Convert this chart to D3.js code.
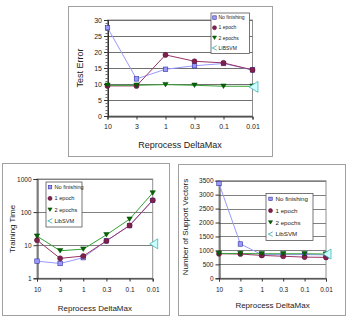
<!DOCTYPE html>
<html><head><meta charset="utf-8">
<script src="https://cdn.jsdelivr.net/npm/d3@7"></script>
<style>body{margin:0;background:#fff}svg{display:block;font-family:"Liberation Sans",Arial,sans-serif}</style>
</head><body><svg id="c" width="347" height="319"></svg>
<script>
// ---- data ----
const categories = ["10", "3", "1", "0.3", "0.1", "0.01"];
const seriesNames = ["No finishing", "1 epoch", "2 epochs", "LibSVM"];
const topSeriesNames = ["No finishing", "1 epoch", "2 epochs", "LIBSVM"];

const testErrorNoFinish = [27.6, 11.6, 14.6, 15.7, 16.4, 14.4];
const testError1Epoch   = [9.4, 9.4, 19.1, 17.1, 16.6, 14.4];
const testError2Epochs  = [9.6, 9.6, 9.8, 9.6, 9.3, 9.3];
const testErrorLibsvm   = 9.1;
const testErrorTicks    = [0, 5, 10, 15, 20, 25, 30];

const timeNoFinish = [3.3, 2.8, 4.2, 13.5, 39, 225];
const time1Epoch   = [14.2, 4.0, 4.7, 13.5, 39.6, 229];
const time2Epochs  = [18.8, 6.8, 7.6, 20.6, 61, 380];
const timeLibsvm   = 11;
const timeTicks    = [1, 10, 100, 1000];

const svNoFinish = [3400, 1230, 850, 850, 850, 840];
const sv1Epoch   = [880, 870, 820, 790, 760, 750];
const sv2Epochs  = [890, 890, 880, 880, 880, 870];
const svLibsvm   = 870;
const svTicks    = [0, 500, 1000, 1500, 2000, 2500, 3000, 3500];

// ---- styles ----
const styles = [
  {line: "#9999ff", fill: "#9999ff", stroke: "#333399", sym: "square"},
  {line: "#993366", fill: "#80204d", stroke: "#5a1035", sym: "circle"},
  {line: "#33a033", fill: "#006600", stroke: "#004400", sym: "tri"},
];
const libStyle = {fill: "#ccffff", stroke: "#33aaaa"};

const svg = d3.select("#c");

function marker(g, sym, x, y, s, st) {
  if (sym === "square") {
    g.append("rect").attr("x", x - s/2).attr("y", y - s/2).attr("width", s).attr("height", s)
      .attr("fill", st.fill).attr("stroke", st.stroke).attr("stroke-width", 0.6);
  } else if (sym === "circle") {
    g.append("circle").attr("cx", x).attr("cy", y).attr("r", s/2 + 0.3)
      .attr("fill", st.fill).attr("stroke", st.stroke).attr("stroke-width", 0.5);
  } else if (sym === "tri") {
    const h = s * 1.0, w = s * 1.2;
    g.append("path").attr("d", `M${x - w/2},${y - h/2}L${x + w/2},${y - h/2}L${x},${y + h/2}Z`)
      .attr("fill", st.fill).attr("stroke", st.stroke).attr("stroke-width", 0.5);
  }
}

function chart(o) {
  const g = svg.append("g");
  const [fx0, fy0, fx1, fy1] = o.frame;
  g.append("rect").attr("x", fx0 + 0.5).attr("y", fy0 + 0.5).attr("width", fx1 - fx0).attr("height", fy1 - fy0)
    .attr("fill", "#fff").attr("stroke", "#a0a0a0").attr("stroke-width", 1);
  const [px0, py0, px1, py1] = o.plot;
  const x = d3.scalePoint().domain(categories).range([px0, px1]).padding(0);
  const y = o.log ? d3.scaleLog().domain(o.yDomain).range([py1, py0])
                  : d3.scaleLinear().domain(o.yDomain).range([py1, py0]);
  // plot border
  g.append("rect").attr("x", px0).attr("y", py0).attr("width", px1 - px0).attr("height", py1 - py0)
    .attr("fill", "none").attr("stroke", "#909090").attr("stroke-width", 1);
  // gridlines
  g.append("g").selectAll("line").data(o.yTicks).join("line")
    .attr("x1", px0).attr("x2", px1).attr("y1", d => Math.round(y(d)) + 0.5).attr("y2", d => Math.round(y(d)) + 0.5)
    .attr("stroke", o.gridColor).attr("stroke-width", 1);
  // y axis
  const ya = g.append("g").attr("transform", `translate(${px0 + 0.5},0)`)
    .call(d3.axisLeft(y).tickValues(o.yTicks).tickSize(4).tickPadding(2).tickFormat(d3.format("d")));
  ya.select(".domain").attr("stroke", "#333");
  ya.selectAll(".tick line").attr("stroke", "#333");
  ya.selectAll("text").attr("font-size", o.tickFont).attr("fill", "#222").attr("font-family", "Liberation Sans, Arial, sans-serif");
  if (o.minor) {
    g.append("g").selectAll("line").data(o.minor).join("line")
      .attr("x1", px0 - 2).attr("x2", px0).attr("y1", d => Math.round(y(d)) + 0.5).attr("y2", d => Math.round(y(d)) + 0.5)
      .attr("stroke", "#333").attr("stroke-width", 0.7);
  }
  // x axis
  const xa = g.append("g").attr("transform", `translate(0,${Math.round(py1) + 0.5})`)
    .call(d3.axisBottom(x).tickSize(3).tickPadding(o.xPad));
  xa.select(".domain").attr("stroke", "#333");
  xa.selectAll(".tick line").attr("stroke", "#333");
  xa.selectAll("text").attr("font-size", o.tickFont).attr("fill", "#222").attr("font-family", "Liberation Sans, Arial, sans-serif");
  // titles
  g.append("text").attr("x", (px0 + px1) / 2).attr("y", o.xTitleY).attr("text-anchor", "middle")
    .attr("font-size", o.titleFont).attr("fill", "#222").text("Reprocess DeltaMax");
  g.append("text").attr("transform", `translate(${o.yTitleX},${o.yTitleY}) rotate(-90)`).attr("text-anchor", "middle")
    .attr("font-size", o.titleFont).attr("fill", "#222").text(o.yTitle);
  // series
  o.series.forEach((vals, i) => {
    const st = styles[i];
    const line = d3.line().x((d, j) => x(categories[j])).y(d => y(d));
    g.append("path").datum(vals).attr("d", line).attr("fill", "none").attr("stroke", st.line).attr("stroke-width", 1);
  });
  o.series.forEach((vals, i) => {
    const st = styles[i];
    vals.forEach((v, j) => marker(g, st.sym, x(categories[j]), y(v), o.markSize, st));
  });
  // libsvm
  const lx = x(categories[categories.length - 1]) + 1, ly = y(o.lib);
  const w = o.libW, h = o.libH;
  g.append("path").attr("d", `M${lx - w/2},${ly}L${lx + w/2},${ly - h/2}L${lx + w/2},${ly + h/2}Z`)
    .attr("fill", libStyle.fill).attr("stroke", libStyle.stroke).attr("stroke-width", 0.7);
  // legend
  const [lx0, ly0, lx1, ly1] = o.legend;
  const lg = g.append("g");
  lg.append("rect").attr("x", lx0 + 0.5).attr("y", ly0 + 0.5).attr("width", lx1 - lx0).attr("height", ly1 - ly0)
    .attr("fill", "#fff").attr("stroke", "#555").attr("stroke-width", 0.8);
  const step = (ly1 - ly0) / 4;
  o.names.forEach((name, i) => {
    const cy = ly0 + step * (i + 0.5);
    const sx = lx0 + o.legSymX;
    if (i < 3) marker(lg, styles[i].sym, sx, cy, o.legMark, styles[i]);
    else {
      const s = o.legMark + 1;
      lg.append("path").attr("d", `M${sx + s/2},${cy - s/2}L${sx - s/2},${cy}L${sx + s/2},${cy + s/2}`)
        .attr("fill", "none").attr("stroke", libStyle.stroke).attr("stroke-width", 0.8);
    }
    lg.append("text").attr("x", sx + o.legTextDx).attr("y", cy).attr("dy", "0.35em")
      .attr("font-size", o.legFont).attr("fill", "#222").text(name);
  });
}

chart({
  frame: [68, 6, 272, 156], plot: [107.5, 20, 252.5, 116],
  yDomain: [0, 30], yTicks: testErrorTicks, minor: d3.range(0, 31).filter(d => d % 5 !== 0),
  series: [testErrorNoFinish, testError1Epoch, testError2Epochs], lib: testErrorLibsvm,
  gridColor: "#707070", tickFont: 7, titleFont: 9, xPad: 5,
  xTitleY: 148, yTitleX: 83, yTitleY: 68, yTitle: "Test Error",
  markSize: 4.5, libW: 9, libH: 11,
  legend: [210.5, 12.5, 249, 53], names: topSeriesNames, legSymX: 4, legTextDx: 4, legFont: 5, legMark: 3.5
});

chart({
  frame: [2, 163, 169, 315], plot: [37, 179, 152.7, 278.3], log: true,
  yDomain: [1, 1000], yTicks: timeTicks,
  series: [timeNoFinish, time1Epoch, time2Epochs], lib: timeLibsvm,
  gridColor: "#808080", tickFont: 6.5, titleFont: 8, xPad: 6,
  xTitleY: 311, yTitleX: 15, yTitleY: 229, yTitle: "Training Time",
  markSize: 4.5, libW: 8, libH: 10,
  legend: [45.5, 181.5, 81.5, 226.5], names: seriesNames, legSymX: 4.5, legTextDx: 4.5, legFont: 5.6, legMark: 3.5
});

chart({
  frame: [178, 164, 345, 315], plot: [219, 180.7, 326, 278.3],
  yDomain: [0, 3500], yTicks: svTicks,
  series: [svNoFinish, sv1Epoch, sv2Epochs], lib: svLibsvm,
  gridColor: "#808080", tickFont: 6.5, titleFont: 8, xPad: 6,
  xTitleY: 308, yTitleX: 188, yTitleY: 227, yTitle: "Number of Support Vectors",
  markSize: 4.5, libW: 8, libH: 10,
  legend: [265.5, 193, 312.5, 240], names: seriesNames, legSymX: 5, legTextDx: 5, legFont: 6.2, legMark: 3.5
});
</script></body></html>
